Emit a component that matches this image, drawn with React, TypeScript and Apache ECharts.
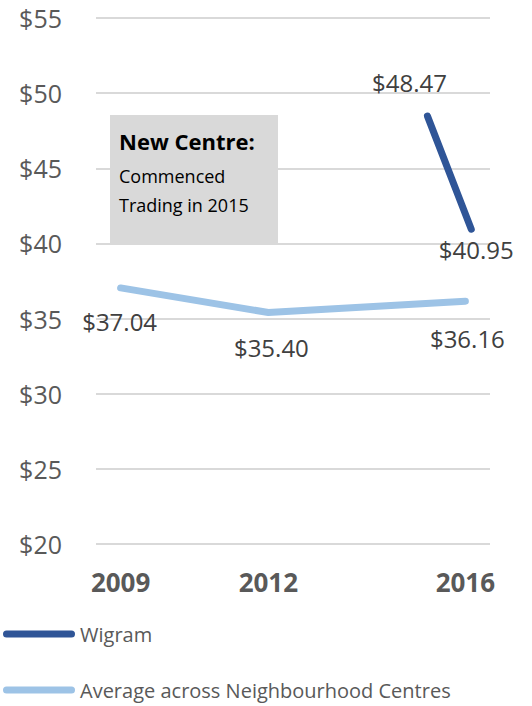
import React, { useEffect, useRef } from "react";
import * as echarts from "echarts";

const averageYears = [2009, 2012, 2016];
const averageValues = [37.04, 35.4, 36.16];
const wigramYears = [2015.23, 2016.12];
const wigramValues = [48.47, 40.95];
const xTickLabels = [2009, 2012, 2016];
const yMin = 20;
const yMax = 55;
const yStep = 5;
const seriesNames = ["Wigram", "Average across Neighbourhood Centres"];
const seriesColors = ["#2F5597", "#9DC3E6"];
const noteTitle = "New Centre:";
const noteLines = ["Commenced", "Trading in 2015"];

const FONT = "'Open Sans', 'Noto Sans', sans-serif";

const avgLabelCfg = [
  { position: "bottom", distance: 21, offset: [-1, 0] },
  { position: "bottom", distance: 22, offset: [3, 0] },
  { position: "bottom", distance: 25, offset: [2, 0] },
];
const wigLabelCfg = [
  { position: "top", distance: 21, offset: [-18, 0] },
  { position: "bottom", distance: 8, offset: [5, 0] },
];

const money = (p: any) => "$" + Number(p.value[1]).toFixed(2);

export default function App() {
  const ref = useRef<HTMLDivElement>(null);
  useEffect(() => {
    if (!ref.current) return;
    const chart = echarts.init(ref.current, null, { renderer: "svg" });
    const stadium =
      "path://M3.5,0 L68.5,0 A3.5,3.5 0 0 1 68.5,7 L3.5,7 A3.5,3.5 0 0 1 3.5,0 Z";
    const labelStyle = {
      show: true,
      formatter: money,
      fontFamily: FONT,
      fontSize: 24,
      color: "#404040",
    };
    chart.setOption({
      animation: false,
      backgroundColor: "#ffffff",
      grid: { left: 96, right: 42, top: 18, bottom: 162 },
      xAxis: {
        type: "value",
        min: 2008.5,
        max: 2016.5,
        axisLine: { show: false },
        axisTick: { show: false },
        splitLine: { show: false },
        axisLabel: {
          customValues: xTickLabels,
          formatter: (v: number) => String(v),
          fontFamily: FONT,
          fontSize: 26,
          fontWeight: "bold",
          color: "#595959",
          margin: 25,
        },
      },
      yAxis: {
        type: "value",
        min: yMin,
        max: yMax,
        interval: yStep,
        axisLine: { show: false },
        axisTick: { show: false },
        splitLine: { lineStyle: { color: "#d9d9d9", width: 2 } },
        axisLabel: {
          formatter: (v: number) => "$" + v,
          fontFamily: FONT,
          fontSize: 25,
          color: "#595959",
          margin: 34,
        },
      },
      legend: {
        orient: "vertical",
        left: 3,
        top: 622,
        padding: 0,
        itemWidth: 72,
        itemHeight: 7,
        itemGap: 32,
        textStyle: {
          fontFamily: FONT,
          fontSize: 20,
          color: "#595959",
          lineHeight: 24,
        },
        data: seriesNames.map((n, i) => ({
          name: n,
          icon: stadium,
          itemStyle: { color: seriesColors[i], opacity: 1 },
        })),
      },
      series: [
        {
          name: seriesNames[0],
          type: "line",
          symbol: "circle",
          symbolSize: 1,
          itemStyle: { color: "rgba(0,0,0,0)" },
          lineStyle: { width: 7, cap: "round", color: seriesColors[0] },
          label: labelStyle,
          data: wigramYears.map((x, i) => ({
            value: [x, wigramValues[i]],
            label: wigLabelCfg[i],
          })),
          z: 3,
        },
        {
          name: seriesNames[1],
          type: "line",
          symbol: "circle",
          symbolSize: 1,
          itemStyle: { color: "rgba(0,0,0,0)" },
          lineStyle: { width: 7, cap: "round", join: "round", color: seriesColors[1] },
          label: labelStyle,
          data: averageYears.map((x, i) => ({
            value: [x, averageValues[i]],
            label: avgLabelCfg[i],
          })),
          z: 2,
        },
      ],
      graphic: [
        {
          type: "group",
          z: 10,
          children: [
            {
              type: "rect",
              shape: { x: 110, y: 115, width: 168, height: 129 },
              style: { fill: "#d9d9d9" },
            },
            {
              type: "text",
              x: 119,
              y: 141,
              style: {
                text: noteTitle,
                fontFamily: FONT,
                fontSize: 22,
                fontWeight: "bold",
                fill: "#000000",
                verticalAlign: "middle",
              },
            },
            {
              type: "text",
              x: 119,
              y: 176,
              style: {
                text: noteLines[0],
                fontFamily: FONT,
                fontSize: 18,
                fill: "#000000",
                verticalAlign: "middle",
              },
            },
            {
              type: "text",
              x: 119,
              y: 205,
              style: {
                text: noteLines[1],
                fontFamily: FONT,
                fontSize: 18,
                fill: "#000000",
                verticalAlign: "middle",
              },
            },
          ],
        },
      ],
    });
    return () => chart.dispose();
  }, []);
  return (
    <div
      ref={ref}
      style={{ position: "absolute", left: 0, top: 0, width: 532, height: 706 }}
    />
  );
}
